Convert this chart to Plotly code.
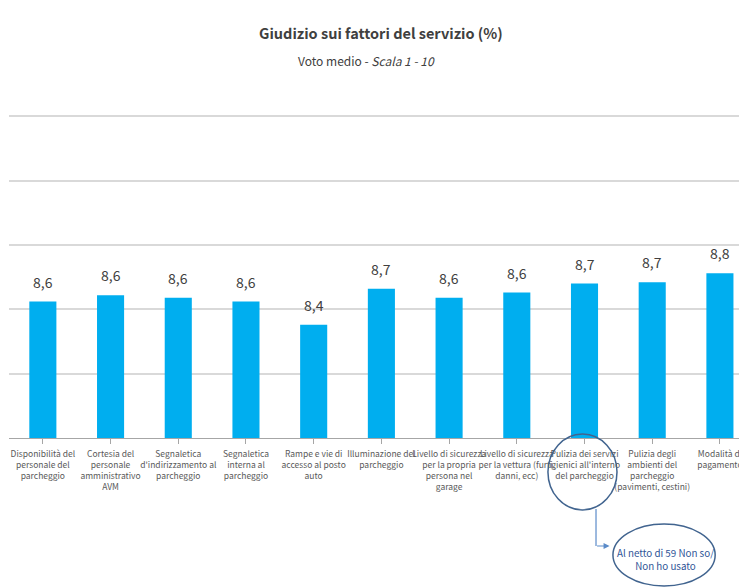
import plotly.graph_objects as go

categories = [
    "Disponibilità del<br>personale del<br>parcheggio",
    "Cortesia del<br>personale<br>amministrativo<br>AVM",
    "Segnaletica<br>d'indirizzamento al<br>parcheggio",
    "Segnaletica<br>interna al<br>parcheggio",
    "Rampe e vie di<br>accesso al posto<br>auto",
    "Illuminazione del<br>parcheggio",
    "Livello di sicurezza<br>per la propria<br>persona nel<br>garage",
    "Livello di sicurezza<br>per la vettura (furti,<br>danni, ecc)",
    "Pulizia dei servizi<br>igienici all'interno<br>del parcheggio",
    "Pulizia degli<br>ambienti del<br>parcheggio<br>(pavimenti, cestini)",
    "Modalità di<br>pagamento",
]
values = [8.56, 8.61, 8.59, 8.56, 8.38, 8.66, 8.59, 8.63, 8.70, 8.71, 8.78]
value_labels = [f"{v:.1f}".replace(".", ",") for v in values]

title_text = "Giudizio sui fattori del servizio (%)"
subtitle_text = "Voto medio - <i>Scala 1 - 10</i>"
note_text = "Al netto di 59 Non so/<br>Non ho usato"

FONT = "Noto Sans CJK SC, Liberation Sans, sans-serif"
BAR_COLOR = "#00AEEF"
NOTE_COLOR = "#41648F"
ARROW_COLOR = "#5B8BC9"

W, H = 739, 580
M_L, M_R, M_T, M_B = 1, 0, 107, 150
PLOT_H = H - M_T - M_B
BODY_OFF = 8  # page body margin


def py(screen_y):
    # screenshot pixel -> paper coordinate
    base = H - M_B + BODY_OFF
    return (base - screen_y) / PLOT_H


def px(screen_x):
    return (screen_x - BODY_OFF - M_L) / (W - M_L - M_R)


x_idx = list(range(len(categories)))

fig = go.Figure()
fig.add_trace(go.Bar(
    x=x_idx, y=values, width=0.4,
    marker=dict(color=BAR_COLOR, line=dict(width=0)),
    hoverinfo="skip",
))

for xi, v, lab in zip(x_idx, values, value_labels):
    fig.add_annotation(
        x=xi, y=v, xref="x", yref="y", text=lab, showarrow=False,
        yanchor="bottom", yshift=8,
        font=dict(family=FONT, size=14, color="#404040"),
    )

fig.add_annotation(x=px(381), y=py(33), xref="paper", yref="paper",
                   text="<b>" + title_text + "</b>",
                   showarrow=False, yanchor="middle",
                   font=dict(family=FONT, size=14.5, color="#404040"))
fig.add_annotation(x=px(366), y=py(60), xref="paper", yref="paper", text=subtitle_text,
                   showarrow=False, yanchor="middle",
                   font=dict(family=FONT, size=12, color="#404040"))

fig.update_layout(
    width=W, height=H,
    margin=dict(l=M_L, r=M_R, t=M_T, b=M_B),
    paper_bgcolor="white", plot_bgcolor="white",
    showlegend=False,
    xaxis=dict(
        range=[-0.5, 10.4],
        tickmode="array", tickvals=x_idx, ticktext=categories,
        tickson="boundaries", ticks="outside", ticklen=5, tickcolor="#A6A6A6",
        showline=True, linecolor="#A6A6A6", linewidth=1,
        showgrid=False, zeroline=False,
        tickangle=0, automargin=False, ticklabelstandoff=3,
        tickfont=dict(family=FONT, size=8.5, color="#595959"),
        fixedrange=True,
    ),
    yaxis=dict(
        range=[7.5, 10.01], dtick=0.5, tick0=7.5,
        showticklabels=False, showgrid=True, gridcolor="#D9D9D9", gridwidth=1.5,
        zeroline=False, showline=False, fixedrange=True,
    ),
)

# callout: ellipse around the highlighted category label, arrow to note
hl = 8
fig.add_shape(type="circle", xref="x", yref="paper",
              x0=hl - 0.54, x1=hl + 0.48, y0=py(510), y1=py(434),
              line=dict(color=NOTE_COLOR, width=1.5))
fig.add_shape(type="line", xref="x", yref="paper",
              x0=hl + 0.17, x1=hl + 0.17, y0=py(509), y1=py(546),
              line=dict(color=ARROW_COLOR, width=1.2))
fig.add_annotation(x=hl + 0.37, y=py(546), xref="x", yref="paper", text="",
                   showarrow=True, axref="pixel", ayref="pixel", ax=-14, ay=0,
                   arrowhead=2, arrowsize=1, arrowwidth=1.2, arrowcolor=ARROW_COLOR)
fig.add_shape(type="circle", xref="x", yref="paper",
              x0=hl + 0.42, x1=hl + 1.93, y0=py(586), y1=py(524),
              line=dict(color=NOTE_COLOR, width=1.5))
fig.add_annotation(x=hl + 1.19, y=py(559), xref="x", yref="paper", text=note_text,
                   showarrow=False, yanchor="middle",
                   font=dict(family=FONT, size=9.8, color="#2F5597"))

fig.write_html("out.html")
